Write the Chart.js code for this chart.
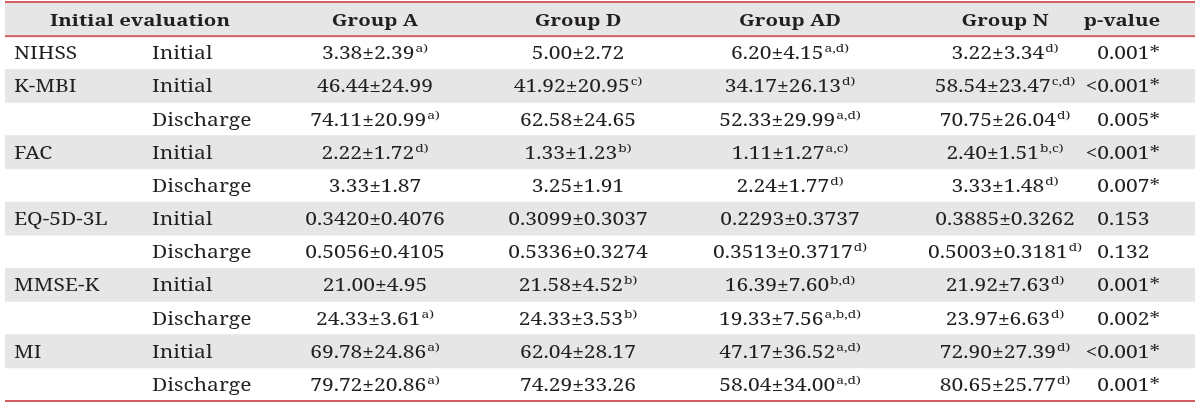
<!DOCTYPE html>
<html><head><meta charset="utf-8">
<script src="https://cdn.jsdelivr.net/npm/chart.js@4/dist/chart.umd.min.js"></script>
<style>html,body{margin:0;padding:0;background:#fff}#wrap{width:1200px;height:407px;position:relative}</style>
</head><body><div id="wrap"><canvas id="c"></canvas></div>
<script>
const headers = ['Initial evaluation','Group A','Group D','Group AD','Group N','p-value'];
const measures = ['NIHSS','K-MBI','','FAC','','EQ-5D-3L','','MMSE-K','','MI',''];
const timepoints = ['Initial','Initial','Discharge','Initial','Discharge','Initial','Discharge','Initial','Discharge','Initial','Discharge'];
const groupA = ['3.38±2.39','46.44±24.99','74.11±20.99','2.22±1.72','3.33±1.87','0.3420±0.4076','0.5056±0.4105','21.00±4.95','24.33±3.61','69.78±24.86','79.72±20.86'];
const groupASup = ['a)','','a)','d)','','','','','a)','a)','a)'];
const groupD = ['5.00±2.72','41.92±20.95','62.58±24.65','1.33±1.23','3.25±1.91','0.3099±0.3037','0.5336±0.3274','21.58±4.52','24.33±3.53','62.04±28.17','74.29±33.26'];
const groupDSup = ['','c)','','b)','','','','b)','b)','',''];
const groupAD = ['6.20±4.15','34.17±26.13','52.33±29.99','1.11±1.27','2.24±1.77','0.2293±0.3737','0.3513±0.3717','16.39±7.60','19.33±7.56','47.17±36.52','58.04±34.00'];
const groupADSup = ['a,d)','d)','a,d)','a,c)','d)','','d)','b,d)','a,b,d)','a,d)','a,d)'];
const groupN = ['3.22±3.34','58.54±23.47','70.75±26.04','2.40±1.51','3.33±1.48','0.3885±0.3262','0.5003±0.3181','21.92±7.63','23.97±6.63','72.90±27.39','80.65±25.77'];
const groupNSup = ['d)','c,d)','d)','b,c)','d)','','d)','d)','d)','d)','d)'];
const pValues = ['0.001*','<0.001*','0.005*','<0.001*','0.007*','0.153','0.132','0.001*','0.002*','<0.001*','0.001*'];

// ---- layout / style (table units along x: 0..TABLE_W) ----
const TABLE_W = 1190;
const COL = { measure: 9, time: 147, span: 135, A: 370, D: 573, AD: 785, N: 1000, pHead: 1117, pRight: 1155 };
const RED = '#d35f65';
const SHADE = '#e6e6e6';
const INK = '#231f20';
const FONT = '"Noto Serif","DejaVu Serif",serif';
const BODY_PX = 17.5, HEAD_PX = 17, SUP_PX = 11.5, SX = 1.2;

const rowKeys = ['header'].concat(timepoints.map((t, i) => 'row' + i));
const shading = rowKeys.map((k, i) => (i % 2 === 0 ? [0, TABLE_W] : null));

const groups = [[groupA, groupASup, 'A'], [groupD, groupDSup, 'D'], [groupAD, groupADSup, 'AD'], [groupN, groupNSup, 'N']];

function txt(ctx, s, x, y, align) {
  ctx.save();
  ctx.translate(x, y);
  ctx.scale(SX, 1);
  ctx.textAlign = align;
  ctx.fillText(s, 0, 0);
  ctx.restore();
}
function wid(ctx, s) { return ctx.measureText(s).width * SX; }

const tablePlugin = {
  id: 'tableText',
  afterDatasetsDraw(chart) {
    const ctx = chart.ctx, xs = chart.scales.x, ys = chart.scales.y;
    const band = ys.getPixelForValue(1) - ys.getPixelForValue(0);
    const left = xs.getPixelForValue(0), right = xs.getPixelForValue(TABLE_W);
    ctx.save();
    // rules
    ctx.fillStyle = RED;
    const top = ys.getPixelForValue(0) - band / 2;
    ctx.fillRect(left, top - 2, right - left, 2);
    const headBottom = ys.getPixelForValue(0) + band / 2;
    ctx.fillRect(left, headBottom - 1, right - left, 2);
    const bottom = ys.getPixelForValue(rowKeys.length - 1) + band / 2;
    ctx.fillRect(left, bottom - 1, right - left, 2);

    ctx.fillStyle = INK;
    ctx.textBaseline = 'alphabetic';
    // header
    const hb = ys.getPixelForValue(0) + 6;
    ctx.font = 'bold ' + HEAD_PX + 'px ' + FONT;
    txt(ctx, headers[0], xs.getPixelForValue(COL.span), hb, 'center');
    ['A', 'D', 'AD', 'N'].forEach((k, i) => txt(ctx, headers[i + 1], xs.getPixelForValue(COL[k]), hb, 'center'));
    txt(ctx, headers[5], xs.getPixelForValue(COL.pHead), hb, 'center');

    // body
    const body = BODY_PX + 'px ' + FONT, sup = SUP_PX + 'px ' + FONT;
    timepoints.forEach((t, i) => {
      const base = ys.getPixelForValue(i + 1) + 6.5;
      ctx.font = body;
      if (measures[i]) txt(ctx, measures[i], xs.getPixelForValue(COL.measure), base, 'left');
      txt(ctx, t, xs.getPixelForValue(COL.time), base, 'left');
      groups.forEach(([vals, sups, key]) => {
        ctx.font = body;
        const w = wid(ctx, vals[i]);
        ctx.font = sup;
        const ws = sups[i] ? wid(ctx, sups[i]) + 1 : 0;
        const start = xs.getPixelForValue(COL[key]) - (w + ws) / 2;
        ctx.font = body;
        txt(ctx, vals[i], start, base, 'left');
        if (sups[i]) { ctx.font = sup; txt(ctx, sups[i], start + w + 1, base - 7, 'left'); }
      });
      // p-value: numbers aligned, '*' hangs right
      ctx.font = body;
      const p = pValues[i];
      const core = p.replace('*', '');
      const starW = wid(ctx, '*');
      const pr = xs.getPixelForValue(COL.pRight);
      txt(ctx, core, pr - starW, base, 'right');
      if (p.endsWith('*')) txt(ctx, '*', pr, base, 'right');
    });
    ctx.restore();
  }
};

new Chart(document.getElementById('c'), {
  type: 'bar',
  data: { labels: rowKeys, datasets: [{ data: shading, backgroundColor: SHADE, borderWidth: 0, barPercentage: 1, categoryPercentage: 1 }] },
  options: {
    indexAxis: 'y', responsive: true, maintainAspectRatio: false, animation: false,
    layout: { padding: { left: 5, right: 5, top: 3, bottom: 6 } },
    plugins: { legend: { display: false }, tooltip: { enabled: false } },
    scales: {
      x: { type: 'linear', min: 0, max: TABLE_W, display: false },
      y: { type: 'category', display: false, offset: true }
    }
  },
  plugins: [tablePlugin]
});
</script></body></html>
